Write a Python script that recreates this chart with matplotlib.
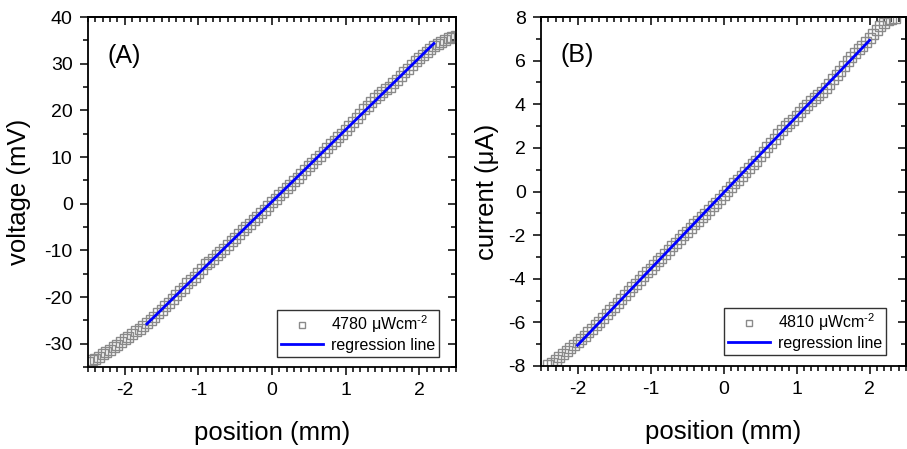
import numpy as np
import matplotlib
matplotlib.use("Agg")
import matplotlib.pyplot as plt
from matplotlib.ticker import MultipleLocator

plt.rcParams['font.family'] = ['Liberation Sans', 'DejaVu Sans']
plt.rcParams['mathtext.fontset'] = 'custom'
plt.rcParams['mathtext.rm'] = 'Liberation Sans'
plt.rcParams['mathtext.it'] = 'Liberation Sans:italic'
plt.rcParams['mathtext.bf'] = 'Liberation Sans:bold'
plt.rcParams['axes.unicode_minus'] = False

# ---------------- Panel A data ----------------
pos_a = [-2.50, -2.45, -2.40, -2.35, -2.30, -2.25, -2.20, -2.15, -2.10, -2.05,
         -2.00, -1.95, -1.90, -1.85, -1.80, -1.75, -1.70, -1.65, -1.60, -1.55,
         -1.50, -1.45, -1.40, -1.35, -1.30, -1.25, -1.20, -1.15, -1.10, -1.05,
         -1.00, -0.95, -0.90, -0.85, -0.80, -0.75, -0.70, -0.65, -0.60, -0.55,
         -0.50, -0.45, -0.40, -0.35, -0.30, -0.25, -0.20, -0.15, -0.10, -0.05,
         0.00, 0.05, 0.10, 0.15, 0.20, 0.25, 0.30, 0.35, 0.40, 0.45,
         0.50, 0.55, 0.60, 0.65, 0.70, 0.75, 0.80, 0.85, 0.90, 0.95,
         1.00, 1.05, 1.10, 1.15, 1.20, 1.25, 1.30, 1.35, 1.40, 1.45,
         1.50, 1.55, 1.60, 1.65, 1.70, 1.75, 1.80, 1.85, 1.90, 1.95,
         2.00, 2.05, 2.10, 2.15, 2.20, 2.25, 2.30, 2.35, 2.40, 2.45, 2.50]
volt_a = [-33.9, -33.6, -33.2, -32.8, -32.3, -31.8, -31.3, -30.8, -30.2, -29.7,
          -29.1, -28.6, -28.0, -27.3, -26.8, -26.3, -25.6, -24.9, -24.2, -23.5,
          -22.7, -22.0, -21.2, -20.4, -19.6, -18.8, -18.0, -17.1, -16.4, -15.7,
          -14.9, -13.9, -13.0, -12.4, -11.8, -11.1, -10.4, -9.7, -8.9, -8.1,
          -7.3, -6.4, -5.7, -5.1, -4.4, -3.6, -2.9, -2.1, -1.3, -0.5,
          0.3, 1.0, 1.8, 2.6, 3.3, 4.0, 4.8, 5.6, 6.4, 7.2,
          8.0, 8.8, 9.5, 10.3, 11.1, 11.9, 12.7, 13.4, 14.2, 15.0,
          15.8, 16.7, 17.5, 18.4, 19.3, 20.2, 21.0, 21.8, 22.6, 23.3,
          23.9, 24.5, 25.1, 25.8, 26.6, 27.4, 28.2, 28.9, 29.7, 30.5,
          31.2, 31.9, 32.6, 33.2, 33.8, 34.3, 34.7, 35.1, 35.4, 35.7, 35.9]
fit_range_a = [-1.7, 2.2]
label_a = "4780 \u03bcWcm$^{\\text{-2}}$"

# ---------------- Panel B data ----------------
pos_b = [-2.40, -2.35, -2.30, -2.25, -2.20, -2.15, -2.10, -2.05,
         -2.00, -1.95, -1.90, -1.85, -1.80, -1.75, -1.70, -1.65, -1.60, -1.55,
         -1.50, -1.45, -1.40, -1.35, -1.30, -1.25, -1.20, -1.15, -1.10, -1.05,
         -1.00, -0.95, -0.90, -0.85, -0.80, -0.75, -0.70, -0.65, -0.60, -0.55,
         -0.50, -0.45, -0.40, -0.35, -0.30, -0.25, -0.20, -0.15, -0.10, -0.05,
         0.00, 0.05, 0.10, 0.15, 0.20, 0.25, 0.30, 0.35, 0.40, 0.45,
         0.50, 0.55, 0.60, 0.65, 0.70, 0.75, 0.80, 0.85, 0.90, 0.95,
         1.00, 1.05, 1.10, 1.15, 1.20, 1.25, 1.30, 1.35, 1.40, 1.45,
         1.50, 1.55, 1.60, 1.65, 1.70, 1.75, 1.80, 1.85, 1.90, 1.95,
         2.00, 2.05, 2.10, 2.15, 2.20, 2.25, 2.30, 2.35]
curr_b = [-7.95, -7.85, -7.72, -7.58, -7.45, -7.32, -7.18, -7.05,
          -6.92, -6.78, -6.62, -6.46, -6.30, -6.13, -5.96, -5.80, -5.63, -5.45,
          -5.28, -5.10, -4.93, -4.76, -4.58, -4.40, -4.23, -4.05, -3.88, -3.71,
          -3.55, -3.38, -3.20, -3.04, -2.86, -2.70, -2.52, -2.34, -2.17, -2.00,
          -1.84, -1.68, -1.51, -1.34, -1.18, -1.01, -0.85, -0.68, -0.52, -0.33,
          -0.15, 0.03, 0.20, 0.38, 0.55, 0.72, 0.90, 1.06, 1.24, 1.42,
          1.62, 1.82, 2.02, 2.22, 2.42, 2.62, 2.82, 2.98, 3.12, 3.28,
          3.46, 3.64, 3.82, 3.98, 4.14, 4.28, 4.42, 4.58, 4.76, 4.95,
          5.14, 5.34, 5.54, 5.76, 5.96, 6.18, 6.36, 6.52, 6.68, 6.86,
          7.04, 7.22, 7.42, 7.60, 7.74, 7.84, 7.90, 7.96]
fit_range_b = [-2.0, 2.0]
label_b = "4810 \u03bcWcm$^{\\text{-2}}$"

TICK_FS = 14
LABEL_FS = 18.5
LEG_FS = 11.5

fig = plt.figure(figsize=(9.07, 4.49), dpi=100)
axA = fig.add_axes([88/907, 1-367/449, (456-88)/907, (367-17)/449])
axB = fig.add_axes([541/907, 1-366/449, (906-541)/907, (366-17)/449])


def draw(ax, x, y, fit_range, lab, ylabel, ylim, ymajor, yminor, panel, leg_anchor):
    x = np.asarray(x); y = np.asarray(y)
    ax.plot(x, y, linestyle='none', marker='s', markersize=6.5,
            markerfacecolor='none', markeredgecolor='#8a8a8a',
            markeredgewidth=1.0, label=lab, clip_on=True)
    m = (x >= fit_range[0]) & (x <= fit_range[1])
    k, b = np.polyfit(x[m], y[m], 1)
    xf = np.array(fit_range)
    ax.plot(xf, k * xf + b, color='#0000ff', lw=2, label='regression line')
    ax.set_xlim(-2.5, 2.5)
    ax.set_ylim(*ylim)
    ax.xaxis.set_major_locator(MultipleLocator(1))
    ax.xaxis.set_minor_locator(MultipleLocator(0.1))
    ax.yaxis.set_major_locator(MultipleLocator(ymajor))
    ax.yaxis.set_minor_locator(MultipleLocator(yminor))
    ax.tick_params(which='both', direction='out', top=False, right=False,
                   width=1.1, labelsize=TICK_FS)
    ax.tick_params(which='major', length=6, pad=5)
    ax.tick_params(which='minor', length=3.5)
    # inward mirror ticks on top and right
    sec_x = ax.secondary_xaxis('top')
    sec_x.xaxis.set_major_locator(MultipleLocator(1))
    sec_x.xaxis.set_minor_locator(MultipleLocator(0.1))
    sec_x.tick_params(which='both', direction='in', labeltop=False, width=1.1)
    sec_x.tick_params(which='major', length=6)
    sec_x.tick_params(which='minor', length=3.5)
    sec_x.spines['top'].set_linewidth(1.3)
    sec_y = ax.secondary_yaxis('right')
    sec_y.yaxis.set_major_locator(MultipleLocator(ymajor))
    sec_y.yaxis.set_minor_locator(MultipleLocator(yminor))
    sec_y.tick_params(which='both', direction='in', labelright=False, width=1.1)
    sec_y.tick_params(which='major', length=6)
    sec_y.tick_params(which='minor', length=3.5)
    sec_y.spines['right'].set_linewidth(1.3)
    for s in ax.spines.values():
        s.set_linewidth(1.3)
    ax.set_xlabel('position (mm)', fontsize=LABEL_FS)
    ax.set_ylabel(ylabel, fontsize=LABEL_FS)
    ax.text(0.054, 0.89, panel, transform=ax.transAxes, fontsize=18,
            ha='left', va='center')
    leg = ax.legend(loc='lower right', bbox_to_anchor=leg_anchor,
                    fontsize=LEG_FS, frameon=True, fancybox=False,
                    edgecolor='black', borderaxespad=0, handlelength=2.6,
                    handletextpad=0.5, borderpad=0.25, labelspacing=0.15,
                    markerscale=0.75)
    leg.get_frame().set_linewidth(1.0)


draw(axA, pos_a, volt_a, fit_range_a, label_a, 'voltage (mV)',
     (-35, 40), 10, 5, '(A)', (0.954, 0.029))
draw(axB, pos_b, curr_b, fit_range_b, label_b, 'current (\u03bcA)',
     (-8, 8), 2, 1, '(B)', (0.945, 0.032))

axA.yaxis.set_label_coords(-0.155, 0.5)
axB.yaxis.set_label_coords(-0.115, 0.5)
axA.xaxis.set_label_coords(0.5, -0.155)
axB.xaxis.set_label_coords(0.5, -0.155)

fig.savefig('out.png', dpi=100)
